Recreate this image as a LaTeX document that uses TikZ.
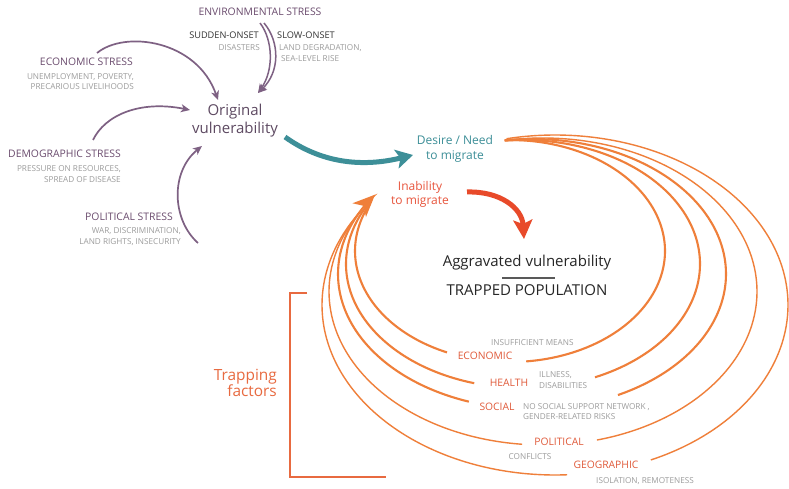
\documentclass[tikz,border=0pt]{standalone}
\usepackage{fontspec}
\setmainfont{Open Sans}
\usetikzlibrary{arrows.meta}
\definecolor{purp}{HTML}{6B4C6E}
\definecolor{purparrow}{HTML}{7E6183}
\definecolor{subgray}{HTML}{9C9C9C}
\definecolor{darktxt}{HTML}{333333}
\definecolor{origtxt}{HTML}{5E4A62}
\definecolor{teal}{HTML}{3D8F98}
\definecolor{arcor}{HTML}{EF7F3A}
\definecolor{facred}{HTML}{E05A3A}
\definecolor{trapor}{HTML}{E86A40}
\definecolor{inabred}{HTML}{E8553D}
\definecolor{redarrow}{HTML}{E84A2A}
\tikzset{
  fs/.style={font=\fontsize{#1}{#1}\selectfont},
  ttl/.style={inner sep=0pt, text=purp, fs=10.4},
  subt/.style={inner sep=0pt, text=subgray, fs=8.2},
  onset/.style={inner sep=0pt, text=darktxt, fs=9.2},
  fac/.style={inner sep=0pt, text=facred, fs=10.3},
  big/.style={inner sep=0pt, fs=15},
  mid12/.style={inner sep=0pt, fs=12},
  parrow/.style={draw=purparrow, line width=1.7pt, -{Stealth[length=9pt,width=8pt,inset=2.5pt]}},
  arcthick/.style={draw=arcor, line width=2.1pt},
  arcthin/.style={draw=arcor, line width=1.4pt},
}
\begin{document}
\begin{tikzpicture}[x=1pt,y=-1pt]
\fill[white] (0,0) rectangle (789,489);
\useasboundingbox (0,0) rectangle (789,489);

% ---------- stress labels ----------
\node[ttl, anchor=mid] (env) at (260,13) {ENVIRONMENTAL STRESS};
\node[onset, anchor=mid east] (sudden) at (259,36) {SUDDEN-ONSET};
\node[subt, anchor=mid east] (disasters) at (260,48) {DISASTERS};
\node[onset, anchor=mid west] (slow) at (277,36) {SLOW-ONSET};
\node[subt, anchor=mid west] (landdeg) at (279,48) {LAND DEGRADATION,};
\node[subt, anchor=mid west] (sealevel) at (281,59) {SEA-LEVEL RISE};

\node[ttl, anchor=mid east] (econ) at (133,63) {ECONOMIC STRESS};
\node[subt, anchor=mid east] (unemp) at (134,77) {UNEMPLOYMENT, POVERTY,};
\node[subt, anchor=mid east] (precar) at (134,87) {PRECARIOUS LIVELIHOODS};

\node[ttl, anchor=mid east] (demo) at (121,155) {DEMOGRAPHIC STRESS};
\node[subt, anchor=mid east] (press) at (121,169) {PRESSURE ON RESOURCES,};
\node[subt, anchor=mid east] (spread) at (121,180) {SPREAD OF DISEASE};

\node[ttl, anchor=mid east] (pol) at (173,218) {POLITICAL STRESS};
\node[subt, anchor=mid east] (war) at (181,231) {WAR, DISCRIMINATION,};
\node[subt, anchor=mid east] (landr) at (181,242) {LAND RIGHTS, INSECURITY};

\node[big, text=origtxt, anchor=mid] (orig1) at (235,113) {Original};
\node[big, text=origtxt, anchor=mid] (orig2) at (235,131) {vulnerability};

% ---------- purple arrows ----------
\coordinate (econS) at (97,53);
\coordinate (econE) at (218,100);
\draw[parrow] (econS) .. controls (125,30) and (197,40) .. (econE);
\coordinate (envS1) at (260,23);
\coordinate (envS2) at (264,23);
\coordinate (envE) at (258,93);
\draw[parrow, line width=1.5pt] (envS1) .. controls (273,40) and (274,70) .. (envE);
\draw[parrow, line width=1.5pt] (envS2) .. controls (280,42) and (280,72) .. (envE);
\coordinate (demoS) at (93,140);
\coordinate (demoE) at (190,110);
\draw[parrow] (demoS) .. controls (105,115) and (140,100) .. (demoE);
\coordinate (polS) at (198,243);
\coordinate (polE) at (202,146);
\draw[parrow] (polS) .. controls (172,220) and (170,172) .. (polE);

% ---------- migration ----------
\node[mid12, text=teal, anchor=mid] (desire1) at (455,142) {Desire / Need};
\node[mid12, text=teal, anchor=mid] (desire2) at (455,157) {to migrate};
\node[mid12, text=inabred, anchor=mid] (inab1) at (420,188) {Inability};
\node[mid12, text=inabred, anchor=mid] (inab2) at (420,202) {to migrate};

\coordinate (tealS) at (285,137);
\coordinate (tealE) at (413,155);
\draw[draw=teal, line width=5pt, -{Stealth[length=17pt,width=19pt,inset=4pt]}]
  (tealS) .. controls (320,162) and (360,168) .. (tealE);
\coordinate (redS) at (467,192);
\coordinate (redE) at (524,239);
\draw[draw=redarrow, line width=5pt, -{Stealth[length=19pt,width=19pt,inset=4pt]}]
  (redS) .. controls (500,191) and (522,208) .. (redE);

\node[big, text=black!85, anchor=mid] (aggr) at (527,264) {Aggravated vulnerability};
\draw[draw=black!65, line width=1.4pt] (502,278) -- (555,278);
\node[big, text=black!85, anchor=mid] (trapped) at (527,293) {TRAPPED POPULATION};

% ---------- orange arcs ----------
% arc 1
\draw[arcthick] plot[domain=-92:84, samples=90, smooth, variable=\t] ({510+155*cos(\t)},{251+111*sin(\t)});
\draw[arcthick] plot[domain=114:204, samples=50, smooth, variable=\t] ({510+155*cos(\t)},{251+111*sin(\t)});
% arc 2
\draw[arcthick] plot[domain=-96:66, samples=90, smooth, variable=\t] ({523+177*cos(\t)},{264+124*sin(\t)});
\draw[arcthick] plot[domain=106:208, samples=50, smooth, variable=\t] ({523+177*cos(\t)},{264+124*sin(\t)});
% arc 4
\draw[arcthin] plot[domain=-100:75.4, samples=90, smooth, variable=\t] ({543+214*cos(\t)},{291.5+153.5*sin(\t)});
\draw[arcthin] plot[domain=95.6:212, samples=60, smooth, variable=\t] ({543+214*cos(\t)},{291.5+153.5*sin(\t)});
% arc 5
\draw[arcthin] plot[domain=-102:65.7, samples=90, smooth, variable=\t] ({555+233*cos(\t)},{305+170*sin(\t)});
\draw[arcthin] plot[domain=87:214, samples=60, smooth, variable=\t] ({555+233*cos(\t)},{305+170*sin(\t)});
% arc 3 (with the arrow head)
\draw[arcthick] plot[domain=-98:63.7, samples=90, smooth, variable=\t] ({532+194*cos(\t)},{274+135*sin(\t)});
\draw[arcthick, -{Stealth[length=22pt,width=19pt,inset=6pt]}] plot[domain=109:216, samples=60, smooth, variable=\t] ({532+194*cos(\t)},{274+135*sin(\t)});

% ---------- trapping factors ----------
\node[fac, anchor=mid] (feco) at (485,357) {ECONOMIC};
\node[subt, anchor=mid west] (feco2) at (491,343) {INSUFFICIENT MEANS};
\node[fac, anchor=mid] (fhea) at (509,384) {HEALTH};
\node[subt, anchor=mid west] (fhea2) at (539,375) {ILLNESS,};
\node[subt, anchor=mid west] (fhea3) at (539,386) {DISABILITIES};
\node[fac, anchor=mid] (fsoc) at (497,408) {SOCIAL};
\node[subt, anchor=mid west] (fsoc2) at (523,407) {NO SOCIAL SUPPORT NETWORK ,};
\node[subt, anchor=mid west] (fsoc3) at (523,417) {GENDER-RELATED RISKS};
\node[fac, anchor=mid] (fpol) at (559,443) {POLITICAL};
\node[subt, anchor=mid] (fpol2) at (530,457) {CONFLICTS};
\node[fac, anchor=mid] (fgeo) at (606,466) {GEOGRAPHIC};
\node[subt, anchor=mid] (fgeo2) at (645,481) {ISOLATION, REMOTENESS};

\node[inner sep=0pt, fs=15.4, text=trapor, anchor=mid east] (trap1) at (277,378) {Trapping};
\node[inner sep=0pt, fs=15.4, text=trapor, anchor=mid east] (trap2) at (277,394) {factors};
\coordinate (brTop) at (307,293);
\coordinate (brBot) at (386,477);
\draw[draw=trapor, line width=1.8pt] (brTop) -- (290,293) -- (290,477) -- (brBot);
\end{tikzpicture}
\end{document}
